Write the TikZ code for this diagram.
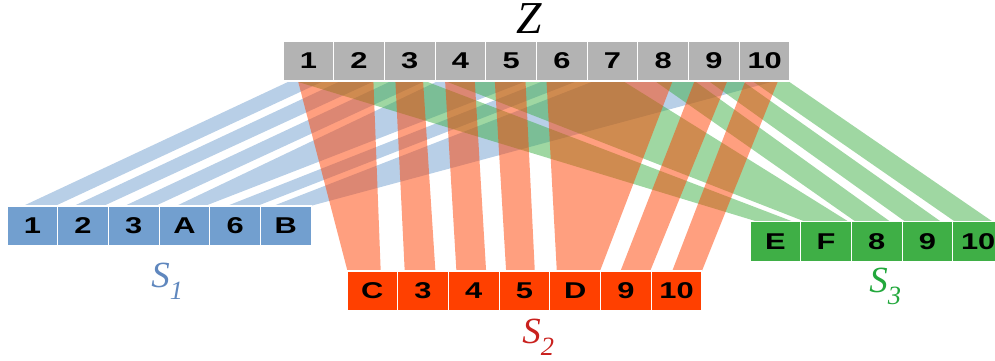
\documentclass[tikz,border=0pt]{standalone}
\usepackage{fontspec}
\setmainfont{Liberation Serif}
\setsansfont{Liberation Sans}
\usepackage{graphicx}
\usepackage{tikz}
\usetikzlibrary{calc,backgrounds}

\definecolor{zgray}{HTML}{B3B3B3}
\definecolor{sblue}{HTML}{729FCF}
\definecolor{sred}{HTML}{FF4000}
\definecolor{sgreen}{HTML}{3FAF46}
\definecolor{lblue}{HTML}{5F87BE}
\definecolor{lred}{HTML}{C9211E}
\definecolor{lgreen}{HTML}{22A83C}

% band from Z cells #2..#3 down to cell #4, with x offsets
\newcommand{\band}[8]{\fill[#1] ($(#2.south west)+(#5,0)$) -- ($(#3.south east)+(#6,0)$) -- ($(#4.north east)+(#8,0)$) -- ($(#4.north west)+(#7,0)$) -- cycle;}
\newcommand{\seqname}[1]{S\raisebox{-7pt}{\fontsize{15}{15}\selectfont #1}}
\newcommand{\wide}[1]{\scalebox{1.35}[1]{#1}}

\begin{document}
\begin{tikzpicture}[x=0.02cm,y=-0.02cm,
  cell/.style={draw=white,line width=0.6pt,minimum width=1.014cm,minimum height=0.8cm,inner sep=0pt,outer sep=0pt,font=\sffamily\bfseries\fontsize{13}{15}\selectfont},
  zcell/.style={cell,fill=zgray},
  acell/.style={cell,fill=sblue},
  bcell/.style={cell,fill=sred},
  ccell/.style={cell,fill=sgreen},
  lab/.style={anchor=base west,inner sep=0pt,font=\itshape\fontsize{21}{24}\selectfont},
  bluebd/.style={fill=sblue,fill opacity=0.5},
  greenbd/.style={fill=sgreen,fill opacity=0.5},
  redbd/.style={fill=sred,fill opacity=0.5}]
\useasboundingbox (0,0) rectangle (995,360);
\foreach \i in {1,...,10}
  \node[zcell] (z\i) at ({283+50.7*(\i-0.5)},61) {\wide{\i}};
\foreach \t [count=\i] in {1,2,3,A,6,B}
  \node[acell] (a\i) at ({7+50.7*(\i-0.5)},226) {\wide{\t}};
\foreach \t [count=\i] in {C,3,4,5,D,9,10}
  \node[bcell] (b\i) at ({347+50.7*(\i-0.5)},291) {\wide{\t}};
\foreach \t [count=\i] in {E,F,8,9,10}
  \node[ccell] (c\i) at ({750+50.7*(\i-0.5)},241.5) {\wide{\t}};
\node[inner sep=0pt,font=\itshape\fontsize{26}{30}\selectfont] (zlab) at (529,18.5) {Z};
\node[lab,text=lblue] (s1lab) at (151,287) {\seqname{1}};
\node[lab,text=lred] (s2lab) at (522,343) {\seqname{2}};
\node[lab,text=lgreen] (s3lab) at (869,292) {\seqname{3}};
\begin{scope}[on background layer]
\band{bluebd}{z1}{z1}{a1}{7}{-10}{16}{-2.7}
\band{bluebd}{z2}{z2}{a2}{7}{-10}{16}{-5}
\band{bluebd}{z3}{z3}{a3}{7}{-10}{16}{-4}
\band{bluebd}{z4}{z5}{a4}{3}{-10}{17}{-5}
\band{bluebd}{z6}{z6}{a5}{7}{-10}{17}{-3.5}
\band{bluebd}{z7}{z10}{a6}{7}{-15}{12.5}{-1}
\band{greenbd}{z1}{z3}{c1}{12}{-10}{7}{-8}
\band{greenbd}{z4}{z7}{c2}{10}{-15}{4}{-3}
\band{greenbd}{z8}{z8}{c3}{17}{6}{4}{-12}
\band{greenbd}{z9}{z9}{c4}{20}{3}{3}{-12}
\band{greenbd}{z10}{z10}{c5}{13}{-2}{2}{-11}
\band{redbd}{z1}{z2}{b1}{15}{-11}{0.5}{-17}
\band{redbd}{z3}{z3}{b2}{11}{-12}{7}{-13}
\band{redbd}{z4}{z4}{b3}{10}{-11}{8}{-13}
\band{redbd}{z5}{z5}{b4}{9}{-11}{7}{-15}
\band{redbd}{z6}{z8}{b5}{10}{-16}{7}{-0.5}
\band{redbd}{z9}{z9}{b6}{6}{-12}{20}{-1}
\band{redbd}{z10}{z10}{b7}{6}{-12}{21}{0}
\end{scope}
\end{tikzpicture}
\end{document}
